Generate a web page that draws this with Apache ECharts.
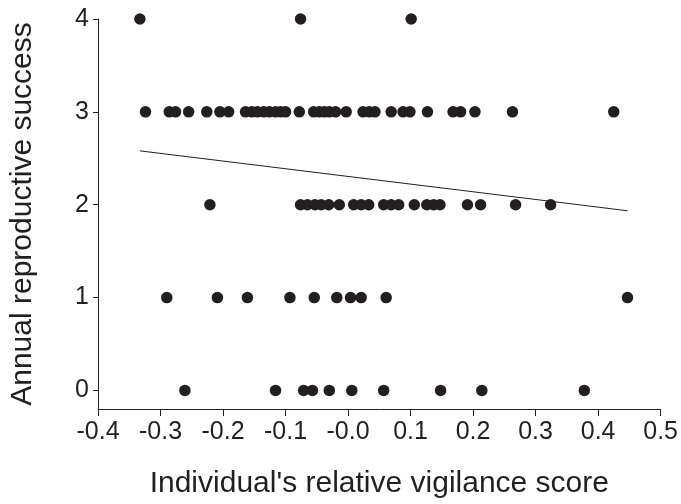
<!DOCTYPE html>
<html>
<head>
<meta charset="utf-8">
<script src="https://cdn.jsdelivr.net/npm/echarts@6/dist/echarts.min.js"></script>
<style>
html,body{margin:0;padding:0;background:#fff;}
#chart{width:681px;height:504px;}
</style>
</head>
<body>
<div id="chart"></div>
<script>
// Tick labels
const xTickLabels = ['-0.4','-0.3','-0.2','-0.1','-0.0','0.1','0.2','0.3','0.4','0.5'];
const yTickValues = [0, 1, 2, 3, 4];

// Vigilance scores of individuals, grouped by annual reproductive success
const successFour = [-0.333, -0.076, 0.101];
const successThree = [-0.324, -0.286, -0.276, -0.255, -0.226, -0.205, -0.191,
  -0.164, -0.154, -0.145, -0.135, -0.126, -0.116, -0.108, -0.100, -0.078,
  -0.055, -0.046, -0.038, -0.030, -0.020, -0.003, 0.024, 0.034, 0.043,
  0.069, 0.088, 0.099, 0.127, 0.168, 0.180, 0.203, 0.263, 0.425];
const successTwo = [-0.221, -0.076, -0.065, -0.053, -0.043, -0.031, -0.014,
  0.009, 0.021, 0.033, 0.057, 0.069, 0.081, 0.106, 0.126, 0.137, 0.147,
  0.191, 0.212, 0.268, 0.324];
const successOne = [-0.290, -0.209, -0.161, -0.093, -0.054, -0.018, 0.004, 0.021, 0.061, 0.447];
const successZero = [-0.261, -0.116, -0.071, -0.057, -0.030, 0.006, 0.057, 0.148, 0.214, 0.378];

// Fitted trend line end points
const trendX = [-0.333, 0.447];
const trendY = [2.58, 1.935];

const ink = '#231f20';
const font = "'Liberation Sans', Arial, Helvetica, sans-serif";

const groups = [[4, successFour], [3, successThree], [2, successTwo], [1, successOne], [0, successZero]];
const points = [];
groups.forEach(([y, xs]) => xs.forEach(x => points.push([x, y])));
const trend = trendX.map((x, i) => [x, trendY[i]]);

const chart = echarts.init(document.getElementById('chart'), null, {renderer: 'canvas'});
chart.setOption({
  animation: false,
  backgroundColor: '#ffffff',
  grid: {left: 96, right: 20, top: 19, bottom: 90, containLabel: false},
  xAxis: {
    type: 'value', min: -0.4, max: 0.5, interval: 0.1,
    name: "Individual's relative vigilance score",
    nameLocation: 'middle', nameGap: 60,
    nameTextStyle: {fontFamily: font, fontSize: 30, color: ink},
    axisLine: {show: true, onZero: false, lineStyle: {color: ink, width: 1}},
    axisTick: {show: true, length: 7, lineStyle: {color: ink, width: 1}},
    axisLabel: {
      fontFamily: font, fontSize: 25, color: ink, margin: 11,
      formatter: v => xTickLabels[Math.round((v + 0.4) / 0.1)]
    },
    splitLine: {show: false}
  },
  yAxis: {
    type: 'value', min: -0.2, max: 4,
    name: 'Annual reproductive success',
    nameLocation: 'middle', nameGap: 60,
    nameTextStyle: {fontFamily: font, fontSize: 30, color: ink},
    axisLine: {show: true, onZero: false, lineStyle: {color: ink, width: 1}},
    axisTick: {show: true, length: 5, customValues: yTickValues, lineStyle: {color: ink, width: 1}},
    axisLabel: {fontFamily: font, fontSize: 25, color: ink, margin: 9, customValues: yTickValues},
    splitLine: {show: false}
  },
  series: [
    {
      type: 'scatter', data: points, symbol: 'circle', symbolSize: 11.5,
      itemStyle: {color: ink, opacity: 1}, silent: true
    },
    {
      type: 'line', data: trend, symbol: 'none',
      lineStyle: {color: ink, width: 1}, silent: true
    }
  ]
});
</script>
</body>
</html>
